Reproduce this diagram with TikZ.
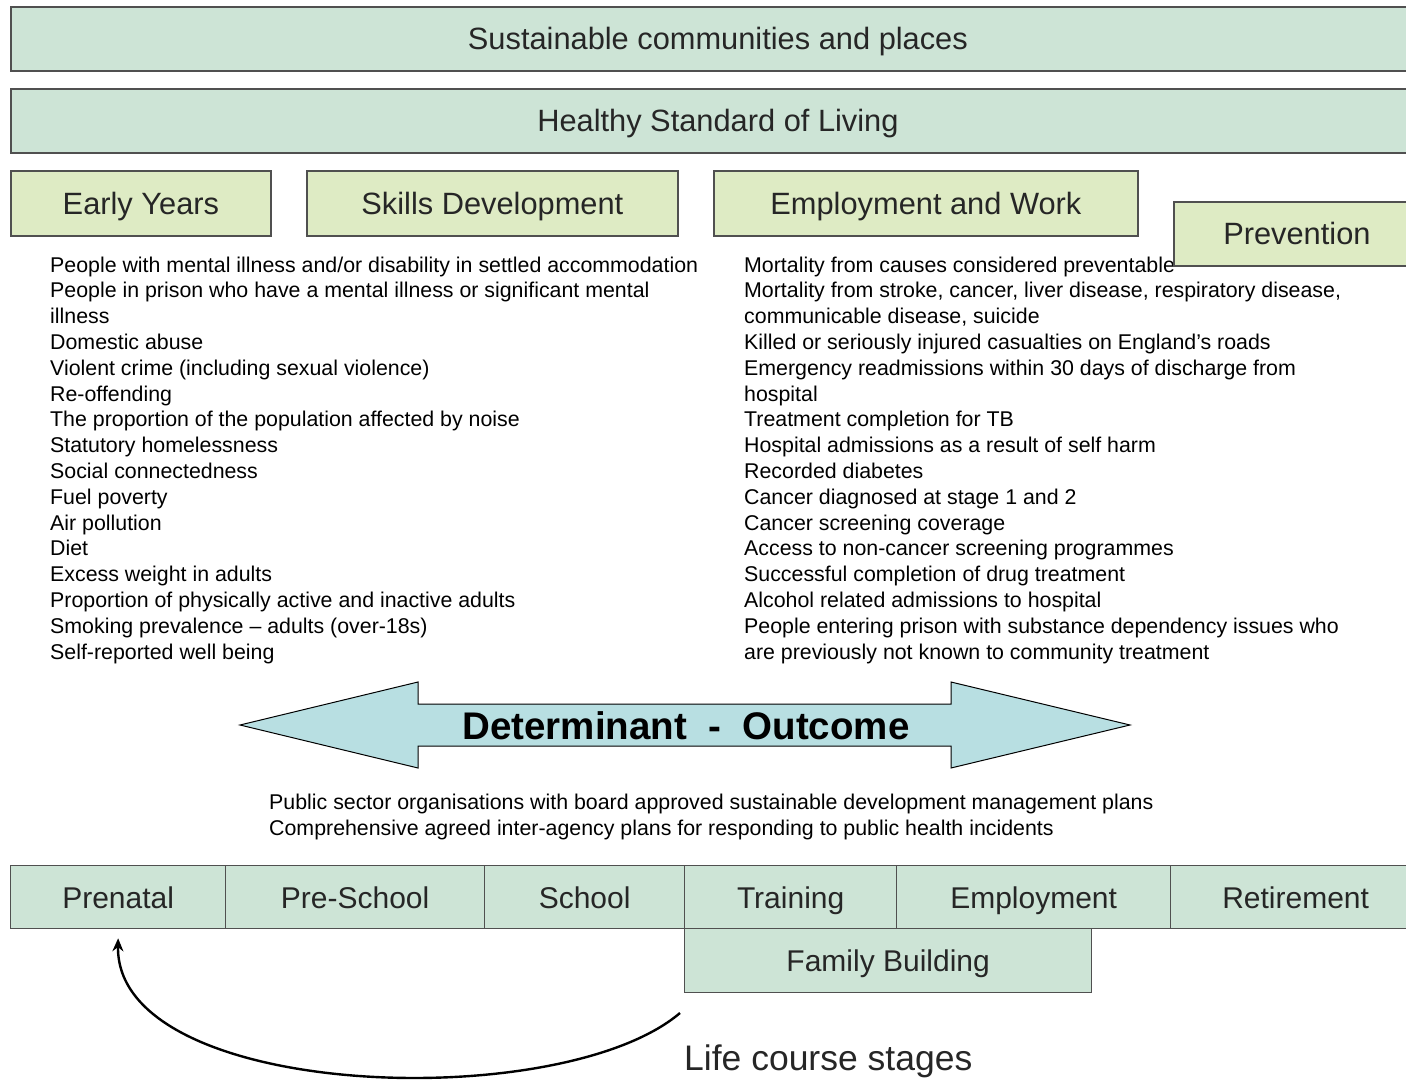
\documentclass[tikz,border=0pt]{standalone}
\usepackage{fontspec}
\setmainfont{Liberation Sans}
\usetikzlibrary{calc, arrows.meta}

\definecolor{mintfill}{RGB}{205,228,214}
\definecolor{limefill}{RGB}{222,235,196}
\definecolor{arrowfill}{RGB}{184,223,226}
\definecolor{edgegray}{RGB}{80,80,80}

\begin{document}
\begin{tikzpicture}[x=1pt, y=-1pt,
    band/.style={draw=edgegray, line width=1.8pt, fill=mintfill, anchor=north west, inner sep=0pt, text=black!85, text height=22pt, text depth=0pt, font=\fontsize{30.8}{34}\selectfont},
    theme/.style={band, fill=limefill},
    stage/.style={band, line width=1.3pt, font=\fontsize{30}{34}\selectfont},
    itemline/.style={anchor=base west, inner sep=0pt, font=\fontsize{21.35}{25}\selectfont}]

    \useasboundingbox (0,0) rectangle (1406,1081);
    \clip (0,0) rectangle (1406,1081);

    % top bands
    \node[band, minimum width=1414pt, minimum height=64pt] (sustain) at (10,6) {Sustainable communities and places};
    \node[band, minimum width=1414pt, minimum height=64pt] (healthy) at (10,88) {Healthy Standard of Living};

    \node[theme, minimum width=260pt, minimum height=65pt] (early) at (10,170) {Early Years};
    \node[theme, minimum width=371pt, minimum height=65pt] (skills) at (306,170) {Skills Development};
    \node[theme, minimum width=424pt, minimum height=65pt] (employ) at (713,170) {Employment and Work};

    % indicator lists
    \foreach \txt [count=\i] in {People with mental illness and/or disability in settled accommodation,
        People in prison who have a mental illness or significant mental, illness, Domestic abuse,
        Violent crime (including sexual violence), Re-offending,
        The proportion of the population affected by noise, Statutory homelessness,
        Social connectedness, Fuel poverty, Air pollution, Diet, Excess weight in adults,
        Proportion of physically active and inactive adults,
        Smoking prevalence – adults (over-18s), Self-reported well being}
    \node[itemline] (det\i) at (50,{272+(\i-1)*25.8}) {\txt};

    \foreach \txt [count=\i] in {Mortality from causes considered preventable,
        {Mortality from stroke, cancer, liver disease, respiratory disease,},
        {communicable disease, suicide}, Killed or seriously injured casualties on England's roads,
        Emergency readmissions within 30 days of discharge from, hospital,
        Treatment completion for TB, Hospital admissions as a result of self harm,
        Recorded diabetes, Cancer diagnosed at stage 1 and 2, Cancer screening coverage,
        Access to non-cancer screening programmes, Successful completion of drug treatment,
        Alcohol related admissions to hospital,
        People entering prison with substance dependency issues who,
        are previously not known to community treatment}
    \node[itemline] (out\i) at (744,{272+(\i-1)*25.8}) {\txt};

    \node[theme, minimum width=246pt, minimum height=64pt] (prevent) at (1173,201) {Prevention};

    % block arrow
    \draw[fill=arrowfill, line width=1pt] (240,725) -- (418,682) -- (418,704) -- (951,704) -- (951,682)
        -- (1130,725) -- (951,768) -- (951,746) -- (418,746) -- (418,768) -- cycle;
    \node[font=\bfseries\fontsize{38.5}{40}\selectfont] (detout) at (686,726) {Determinant\ \ -\ \ Outcome};

    \node[itemline] (pub1) at (269,809) {Public sector organisations with board approved sustainable development management plans};
    \node[itemline] (pub2) at (269,835) {Comprehensive agreed inter-agency plans for responding to public health incidents};

    % life course
    \foreach \lab/\xa/\xb [count=\i] in {Prenatal/10/225, Pre-School/225/484, School/484/684,
        Training/684/896, Employment/896/1170, Retirement/1170/1420}
    \node[stage, minimum width={(\xb-\xa)*1pt}, minimum height=63pt] (stage\i) at (\xa,865) {\lab};
    \node[stage, minimum width=407pt, minimum height=64pt] (family) at (684,928) {Family Building};

    \coordinate (loopstart) at (680,1013);
    \draw[-{Stealth[length=13pt,width=11pt]}, line width=2.4pt] (loopstart) .. controls (560,1115) and (115,1100) .. ([yshift=-9pt]stage1.south);
    \node[anchor=west, inner sep=0pt, text=black!85, font=\fontsize{35.5}{38}\selectfont] (lcs) at (684,1061) {Life course stages};

\end{tikzpicture}
\end{document}
